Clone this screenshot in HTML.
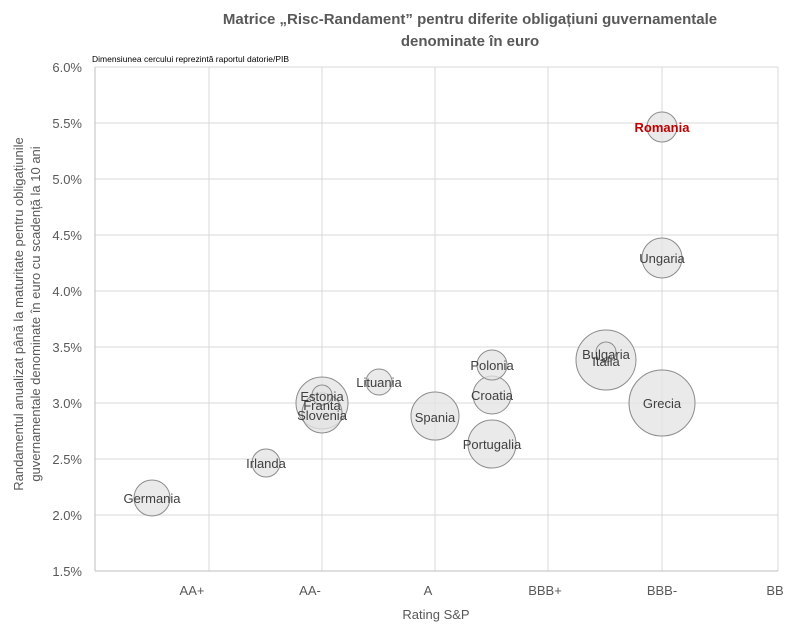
<!DOCTYPE html>
<html><head><meta charset="utf-8"><style>
body{margin:0;background:#fff;}
svg text{font-family:"Liberation Sans",sans-serif;}
</style></head><body>
<svg width="790" height="629" xmlns="http://www.w3.org/2000/svg">
<rect width="790" height="629" fill="#fff"/>
<text x="470" y="24" text-anchor="middle" font-size="15" font-weight="bold" fill="#595959">Matrice „Risc-Randament” pentru diferite obligațiuni guvernamentale</text>
<text x="470" y="46" text-anchor="middle" font-size="15" font-weight="bold" fill="#595959">denominate în euro</text>
<text x="92" y="62" font-size="8.5" fill="#000">Dimensiunea cercului reprezintă raportul datorie/PIB</text>
<g stroke="#d9d9d9" stroke-width="1">
<line x1="95" y1="67" x2="778" y2="67"/><line x1="95" y1="123" x2="778" y2="123"/><line x1="95" y1="179" x2="778" y2="179"/><line x1="95" y1="235" x2="778" y2="235"/><line x1="95" y1="291" x2="778" y2="291"/><line x1="95" y1="347" x2="778" y2="347"/><line x1="95" y1="403" x2="778" y2="403"/><line x1="95" y1="459" x2="778" y2="459"/><line x1="95" y1="515" x2="778" y2="515"/>
<line x1="209" y1="67" x2="209" y2="571"/><line x1="322" y1="67" x2="322" y2="571"/><line x1="435" y1="67" x2="435" y2="571"/><line x1="548" y1="67" x2="548" y2="571"/><line x1="662" y1="67" x2="662" y2="571"/><line x1="778" y1="67" x2="778" y2="571"/>
</g>
<line x1="95" y1="67" x2="95" y2="571" stroke="#bfbfbf"/>
<line x1="95" y1="571" x2="778" y2="571" stroke="#bfbfbf"/>
<g font-size="13" fill="#595959" text-anchor="end">
<text x="82" y="72">6.0%</text><text x="82" y="128">5.5%</text><text x="82" y="184">5.0%</text><text x="82" y="240">4.5%</text><text x="82" y="296">4.0%</text><text x="82" y="352">3.5%</text><text x="82" y="408">3.0%</text><text x="82" y="464">2.5%</text><text x="82" y="520">2.0%</text><text x="82" y="576">1.5%</text>
</g>
<g font-size="13" fill="#595959" text-anchor="middle">
<text x="192" y="595">AA+</text><text x="310" y="595">AA-</text><text x="428" y="595">A</text><text x="545" y="595">BBB+</text><text x="662" y="595">BBB-</text><text x="775" y="595">BB</text>
<text x="436" y="619">Rating S&amp;P</text>
</g>
<g font-size="13" fill="#595959" text-anchor="middle">
<text transform="translate(23,314) rotate(-90)">Randamentul anualizat până la maturitate pentru obligațiunile</text>
<text transform="translate(40,314) rotate(-90)">guvernamentale denominate în euro cu scadență la 10 ani</text>
</g>
<g fill="#e3e3e3" fill-opacity="0.75" stroke="#8c8c8c" stroke-width="1">
<circle cx="152" cy="498" r="18"/>
<circle cx="266" cy="463" r="14"/>
<circle cx="322" cy="403" r="26"/>
<circle cx="322" cy="413" r="20"/>
<circle cx="322" cy="395" r="10"/>
<circle cx="379" cy="382" r="13"/>
<circle cx="435" cy="416" r="24"/>
<circle cx="492" cy="444" r="24"/>
<circle cx="492" cy="395" r="19"/>
<circle cx="492" cy="365" r="15"/>
<circle cx="606" cy="360" r="30"/>
<circle cx="606" cy="352" r="10"/>
<circle cx="662" cy="403" r="33"/>
<circle cx="662" cy="258" r="20"/>
<circle cx="662" cy="127" r="15"/>
</g>
<g font-size="13" fill="#404040" text-anchor="middle">
<text x="152" y="503">Germania</text>
<text x="266" y="468">Irlanda</text>
<text x="322" y="401">Estonia</text>
<text x="322" y="410">Franta</text>
<text x="322" y="420">Slovenia</text>
<text x="379" y="387">Lituania</text>
<text x="435" y="422">Spania</text>
<text x="492" y="449">Portugalia</text>
<text x="492" y="400">Croatia</text>
<text x="492" y="370">Polonia</text>
<text x="606" y="359">Bulgaria</text>
<text x="606" y="366">Italia</text>
<text x="662" y="408">Grecia</text>
<text x="662" y="263">Ungaria</text>
<text x="662" y="132" fill="#c00000" font-weight="bold">Romania</text>
</g>
</svg>
</body></html>
